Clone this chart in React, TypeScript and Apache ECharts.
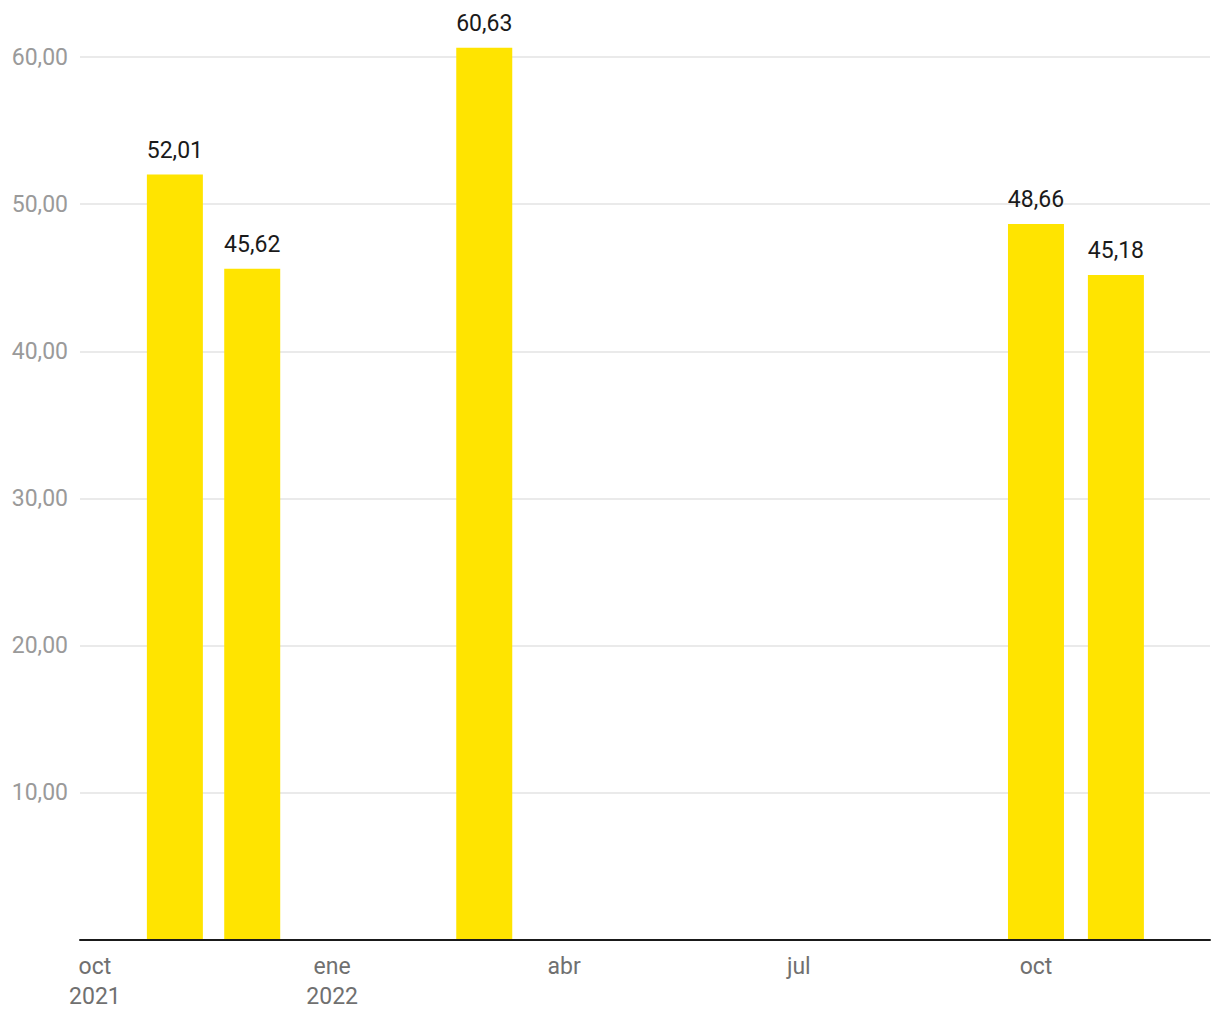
import React, { useEffect, useRef } from "react";
import * as echarts from "echarts";

const barDates = ["2021-11-01", "2021-12-01", "2022-03-01", "2022-10-01", "2022-11-01"];
const barValues = [52.01, 45.62, 60.63, 48.66, 45.18];
const tickDates = ["2021-10-01", "2022-01-01", "2022-04-01", "2022-07-01", "2022-10-01"];
const tickLabels = ["oct\n2021", "ene\n2022", "abr", "jul", "oct"];
const yTicks = [10, 20, 30, 40, 50, 60];

const ts = (d: string) => Date.parse(d + "T00:00:00Z");
const DAY = 86400000;

const fmt = (v: number) => v.toFixed(2).replace(".", ",");

export default function App() {
  const ref = useRef<HTMLDivElement>(null);
  useEffect(() => {
    if (!ref.current) return;
    const chart = echarts.init(ref.current, undefined, { renderer: "svg" });
    const tickTs = tickDates.map(ts);
    const xMin = ts("2021-10-01") - 5.8 * DAY;
    const xMax = ts("2022-10-01") + 67.5 * DAY;
    chart.setOption({
      animation: false,
      textStyle: { fontFamily: "Roboto" },
      grid: { left: 80, right: 10, top: 57, bottom: 80, containLabel: false },
      xAxis: {
        type: "value",
        min: xMin,
        max: xMax,
        z: 5,
        axisLine: { show: true, lineStyle: { color: "#1a1a1a", width: 2 } },
        axisTick: { show: false },
        splitLine: { show: false },
        axisLabel: {
          customValues: tickTs,
          formatter: (v: number) => {
            const i = tickTs.indexOf(v);
            return i >= 0 ? tickLabels[i] : "";
          },
          color: "#707070",
          fontSize: 23,
          lineHeight: 30,
          margin: 11,
          fontFamily: "Roboto",
        },
      },
      yAxis: {
        type: "value",
        min: 0,
        max: 60,
        interval: 10,
        axisLine: { show: false },
        axisTick: { show: false },
        splitLine: { show: true, lineStyle: { color: "#e3e3e3", width: 1.5 } },
        axisLabel: {
          showMinLabel: false,
          formatter: (v: number) => (yTicks.includes(v) ? fmt(v) : ""),
          color: "#9a9a9a",
          fontSize: 23,
          margin: 12,
          fontFamily: "Roboto",
        },
      },
      series: [
        {
          type: "bar",
          clip: false,
          barWidth: 56,
          itemStyle: { color: "#FFE400" },
          data: barDates.map((d, i) => [ts(d), barValues[i]]),
          label: {
            show: true,
            position: "top",
            distance: 13,
            color: "#1a1a1a",
            fontSize: 23,
            fontFamily: "Roboto",
            formatter: (p: any) => fmt(p.value[1]),
          },
        },
      ],
    });
    return () => chart.dispose();
  }, []);
  return (
    <div
      ref={ref}
      style={{ position: "fixed", left: 0, top: 0, width: 1220, height: 1020, background: "#fff" }}
    />
  );
}
